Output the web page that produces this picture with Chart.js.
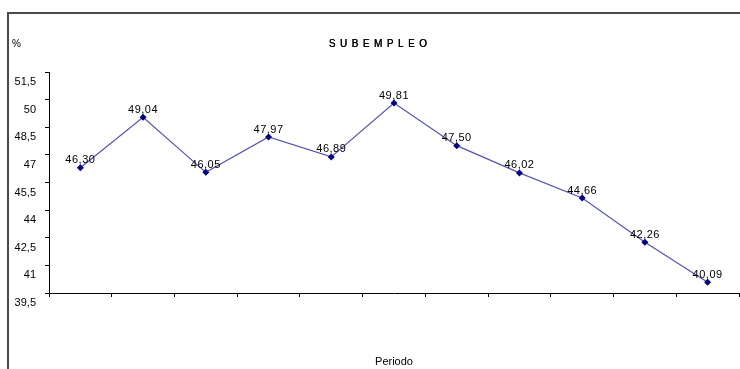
<!DOCTYPE html>
<html>
<head>
<meta charset="utf-8">
<script src="https://cdn.jsdelivr.net/npm/chart.js@4.4.1/dist/chart.umd.min.js"></script>
<style>
  html, body { margin: 0; padding: 0; background: #fff; overflow: hidden; }
  #wrap { position: relative; width: 743px; height: 369px; }
</style>
</head>
<body>
<div id="wrap"><canvas id="subempleo"></canvas></div>
<script>
// Datos de la serie
const periodos = ['', '', '', '', '', '', '', '', '', '', ''];
const valores = [46.30, 49.04, 46.05, 47.97, 46.89, 49.81, 47.50, 46.02, 44.66, 42.26, 40.09];
const ejeMin = 39.5;
const ejeMax = 51.5;
const ejePaso = 1.5;

const fmt = v => String(v).replace('.', ',');

// Marco, titulo y etiquetas de datos
const extras = {
    id: 'extras',
    beforeDraw(chart) {
        const c = chart.ctx;
        c.save();
        c.fillStyle = '#fff';
        c.fillRect(0, 0, chart.width, chart.height);
        c.fillStyle = '#4a4a4a';
        c.fillRect(7, 12, chart.width - 7, 2);
        c.fillRect(7, 12, 2, chart.height - 12);
        c.restore();
    },
    afterDraw(chart) {
        const c = chart.ctx;
        c.save();
        c.fillStyle = '#000';
        c.textBaseline = 'middle';
        c.font = '10px "Liberation Sans", Arial, sans-serif';
        c.textAlign = 'left';
        c.fillText('%', 12, 44);
        c.font = '10px "Liberation Sans", Arial, sans-serif';
        c.letterSpacing = '4.5px';
        c.textAlign = 'center';
        c.fillText('SUBEMPLEO', 380, 44);
        c.fillText('SUBEMPLEO', 380.4, 44);
        c.letterSpacing = '0.5px';
        c.font = '11px "Liberation Sans", Arial, sans-serif';
        c.textBaseline = 'bottom';
        const meta = chart.getDatasetMeta(0);
        meta.data.forEach((pt, i) => {
            c.fillText(valores[i].toFixed(2).replace('.', ','), pt.x, pt.y - 2);
        });
        c.restore();
    }
};

new Chart(document.getElementById('subempleo'), {
    type: 'line',
    data: {
        labels: periodos,
        datasets: [{
            data: valores,
            borderColor: '#5555b0',
            borderWidth: 1.2,
            pointStyle: 'rectRot',
            pointRadius: 3.5,
            pointBackgroundColor: '#000080',
            pointBorderColor: '#000080',
            pointBorderWidth: 0,
            tension: 0
        }]
    },
    options: {
        responsive: true,
        maintainAspectRatio: false,
        animation: false,
        layout: { padding: { top: 72, left: 0, right: 0, bottom: 0 } },
        plugins: {
            legend: { display: false },
            tooltip: { enabled: false }
        },
        scales: {
            x: {
                offset: true,
                grid: { offset: true, drawOnChartArea: false, drawTicks: true, tickLength: 4, color: '#000' },
                border: { color: '#000', width: 1 },
                ticks: { display: true, padding: 0, font: { size: 1 } },
                title: {
                    display: true,
                    text: 'Periodo',
                    color: '#000',
                    font: { family: '"Liberation Sans", Arial, sans-serif', size: 11 },
                    padding: { top: 0, bottom: 0 }
                },
                afterFit(scale) { scale.height = 76; }
            },
            y: {
                min: ejeMin,
                max: ejeMax,
                grid: { drawOnChartArea: false, drawTicks: true, tickLength: 4, color: '#000' },
                border: { color: '#000', width: 1 },
                ticks: {
                    stepSize: ejePaso,
                    color: '#000',
                    padding: 9,
                    labelOffset: 10,
                    font: { family: '"Liberation Sans", Arial, sans-serif', size: 11 },
                    callback: v => fmt(v)
                },
                afterFit(scale) { scale.width = 49; }
            }
        }
    },
    plugins: [extras]
});
</script>
</body>
</html>
